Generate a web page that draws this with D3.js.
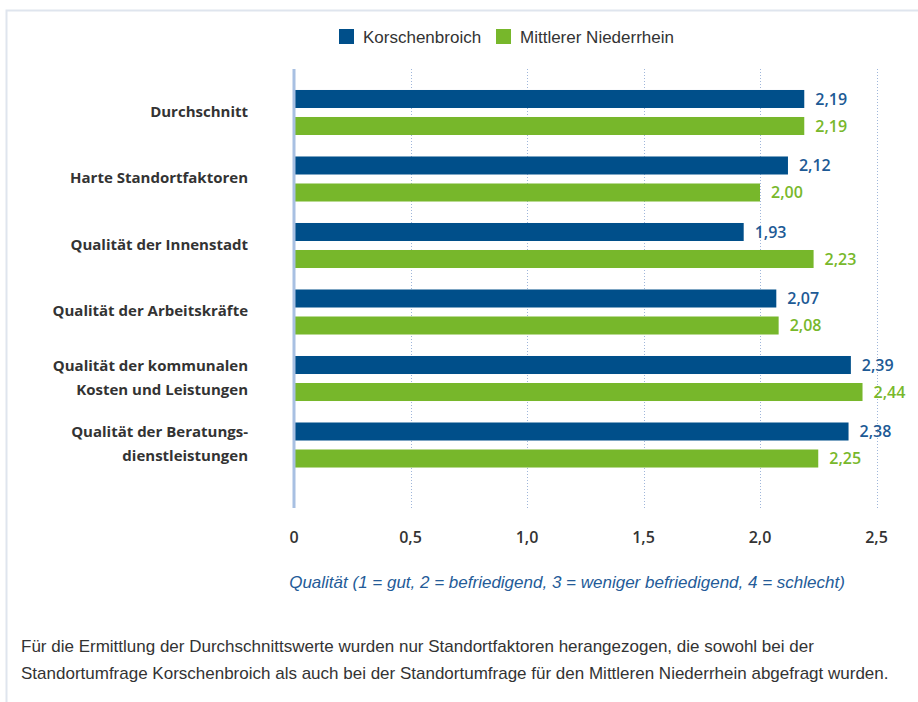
<!DOCTYPE html>
<html>
<head>
<meta charset="utf-8">
<script src="https://cdn.jsdelivr.net/npm/d3@7"></script>
<style>
  body { margin: 0; background: #fff; }
  svg { display: block; }
</style>
</head>
<body>
<svg id="chart"></svg>
<script>
// data
const categories = [
  ["Durchschnitt"],
  ["Harte Standortfaktoren"],
  ["Qualität der Innenstadt"],
  ["Qualität der Arbeitskräfte"],
  ["Qualität der kommunalen", "Kosten und Leistungen"],
  ["Qualität der Beratungs-", "dienstleistungen"]
]
const seriesNames = ["Korschenbroich", "Mittlerer Niederrhein"]
const korschenbroich = [2.19, 2.12, 1.93, 2.07, 2.39, 2.38]
const niederrhein = [2.19, 2.00, 2.23, 2.08, 2.44, 2.25]
const ticks = [0, 0.5, 1.0, 1.5, 2.0, 2.5]
const axisTitle = "Qualität (1 = gut, 2 = befriedigend, 3 = weniger befriedigend, 4 = schlecht)"
const footnote = [
  "Für die Ermittlung der Durchschnittswerte wurden nur Standortfaktoren herangezogen, die sowohl bei der",
  "Standortumfrage Korschenbroich als auch bei der Standortumfrage für den Mittleren Niederrhein abgefragt wurden."
]

const colors = ["#004f8a", "#77b72b"]
const textColors = ["#1d5a95", "#78b82b"]

const width = 918, height = 702
const svg = d3.select("#chart").attr("width", width).attr("height", height)

const de = d3.formatLocale({decimal: ",", thousands: ".", grouping: [3], currency: ["", " €"]})
const fmt2 = de.format(".2f")
const fmtTick = d => d === 0 ? "0" : de.format(".1f")(d)

const rows = categories.map((c, i) => ({key: c.join(" "), lines: c, values: [korschenbroich[i], niederrhein[i]]}))

// frame
svg.append("path")
  .attr("d", `M6.5,${height} V10.5 H${width}`)
  .attr("fill", "none")
  .attr("stroke", "#dfe5ee")
  .attr("stroke-width", 2)

const xScale = d3.scaleLinear().domain([0, 2.5]).range([294, 876.5])
const yScale = d3.scaleBand()
  .domain(rows.map(d => d.key))
  .range([68.5, 489])
  .paddingInner(0.323)
  .paddingOuter(0.323)
const ySub = d3.scaleBand()
  .domain(seriesNames)
  .range([0, yScale.bandwidth()])
  .paddingInner(0.333)

// grid
svg.append("g").selectAll("line")
  .data(ticks.filter(t => t > 0))
  .join("line")
    .attr("x1", d => Math.round(xScale(d)) + 0.5)
    .attr("x2", d => Math.round(xScale(d)) + 0.5)
    .attr("y1", 69)
    .attr("y2", 508)
    .attr("stroke", "#9fb6da")
    .attr("stroke-width", 1)
    .attr("stroke-dasharray", "1,2")

// bars
const groups = svg.append("g").selectAll("g")
  .data(rows)
  .join("g")
    .attr("transform", d => `translate(0,${yScale(d.key)})`)

groups.selectAll("rect")
  .data(d => d.values.map((v, i) => ({v, i})))
  .join("rect")
    .attr("x", xScale(0))
    .attr("y", d => ySub(seriesNames[d.i]))
    .attr("height", ySub.bandwidth())
    .attr("width", d => xScale(d.v) - xScale(0))
    .attr("fill", d => colors[d.i])

groups.selectAll(".val")
  .data(d => d.values.map((v, i) => ({v, i})))
  .join("text")
    .attr("class", "val")
    .attr("x", d => xScale(d.v) + 11)
    .attr("y", d => ySub(seriesNames[d.i]) + ySub.bandwidth() / 2)
    .attr("dy", "0.36em")
    .attr("fill", d => textColors[d.i])
    .style("font", "600 16px 'Open Sans', sans-serif")
    .text(d => fmt2(d.v))

// category labels
groups.append("text")
  .attr("text-anchor", "end")
  .attr("fill", "#333")
  .style("font", "bold 15px 'Open Sans', sans-serif")
  .each(function(d) {
    const mid = yScale.bandwidth() / 2
    const n = d.lines.length
    d3.select(this).selectAll("tspan")
      .data(d.lines)
      .join("tspan")
        .attr("x", 248)
        .attr("y", (l, j) => mid - 1 + (j - (n - 1) / 2) * 24)
        .attr("dy", "0.36em")
        .text(l => l)
  })

// axis line at 0
svg.append("line")
  .attr("x1", xScale(0)).attr("x2", xScale(0))
  .attr("y1", 69).attr("y2", 508)
  .attr("stroke", "#a8c0e2")
  .attr("stroke-width", 3)

// tick labels
svg.append("g").selectAll("text")
  .data(ticks)
  .join("text")
    .attr("x", d => xScale(d))
    .attr("y", 543)
    .attr("text-anchor", "middle")
    .attr("fill", "#333")
    .style("font", "600 16px 'Open Sans', sans-serif")
    .text(fmtTick)

svg.append("text")
  .attr("x", 567)
  .attr("y", 588)
  .attr("text-anchor", "middle")
  .attr("fill", "#245b98")
  .style("font", "italic 17px 'Liberation Sans Narrow', sans-serif")
  .text(axisTitle)

// legend
const legend = svg.append("g").selectAll("g")
  .data(seriesNames)
  .join("g")
    .attr("transform", (d, i) => `translate(${[339, 496][i]},29)`)
legend.append("rect")
  .attr("width", 15).attr("height", 15)
  .attr("fill", (d, i) => colors[i])
legend.append("text")
  .attr("x", 24).attr("y", 7.5).attr("dy", "0.36em")
  .attr("fill", "#333")
  .style("font", "17px 'Liberation Sans Narrow', sans-serif")
  .text(d => d)

// footnote
svg.append("g").selectAll("text")
  .data(footnote)
  .join("text")
    .attr("x", 21)
    .attr("y", (d, i) => 652 + i * 27)
    .attr("fill", "#333")
    .style("font", "17px 'Liberation Sans', sans-serif")
    .text(d => d)
</script>
</body>
</html>
